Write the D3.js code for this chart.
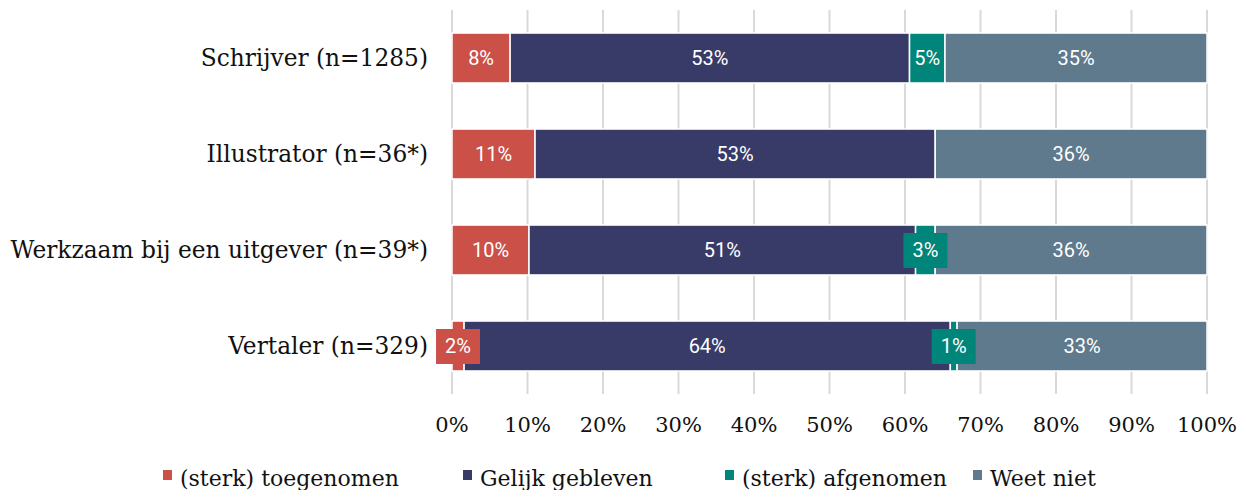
<!DOCTYPE html>
<html>
<head>
<meta charset="utf-8">
<script src="https://cdn.jsdelivr.net/npm/d3@7"></script>
<style>
  body { margin: 0; background: #fff; }
  svg { display: block; }
  .cat, .tick-label, .legend text { font-family: "DejaVu Serif", serif; fill: #111; }
  .val { font-family: Roboto, sans-serif; fill: #fff; font-size: 20px; }
</style>
</head>
<body>
<div id="chart"></div>
<script>
// categories and series (percentages)
const categories = ['Schrijver (n=1285)', 'Illustrator (n=36*)', 'Werkzaam bij een uitgever (n=39*)', 'Vertaler (n=329)'];
const seriesNames = ['(sterk) toegenomen', 'Gelijk gebleven', '(sterk) afgenomen', 'Weet niet'];
const toegenomen = [7.7, 11.0, 10.2, 1.6];
const gelijk = [52.9, 53.0, 51.2, 64.4];
const afgenomen = [4.7, 0, 2.6, 0.9];
const weetNiet = [34.7, 36.0, 36.0, 33.1];
const colors = ['#cb5047', '#383b68', '#00857a', '#5f7a8d'];
const tickValues = [0, 10, 20, 30, 40, 50, 60, 70, 80, 90, 100];

const width = 1243, height = 490;
const svg = d3.select('#chart').append('svg')
  .attr('width', width).attr('height', height);

const x = d3.scaleLinear().domain([0, 100]).range([452, 1207]);
const y = d3.scaleBand().domain(categories).range([10, 394])
  .paddingInner(0.48).paddingOuter(0.24);

// gridlines
svg.append('g').selectAll('line')
  .data(tickValues).enter().append('line')
  .attr('x1', d => x(d)).attr('x2', d => x(d))
  .attr('y1', 10).attr('y2', 394)
  .attr('stroke', '#d9d9d9').attr('stroke-width', 2);

// tick labels
svg.append('g').selectAll('text')
  .data(tickValues).enter().append('text')
  .attr('class', 'tick-label')
  .attr('x', d => x(d)).attr('y', 432)
  .attr('text-anchor', 'middle')
  .style('font-size', '21px')
  .text(d => d + '%');

// category labels
svg.append('g').selectAll('text')
  .data(categories).enter().append('text')
  .attr('class', 'cat')
  .attr('x', 428).attr('y', d => y(d) + y.bandwidth() / 2 + 8)
  .attr('text-anchor', 'end')
  .style('font-size', '23.3px')
  .text(d => d);

const rows = categories.map((c, i) => {
  const vals = [toegenomen[i], gelijk[i], afgenomen[i], weetNiet[i]];
  let acc = 0;
  return vals.map((v, k) => {
    const seg = { cat: c, k, v, x0: acc, x1: acc + v };
    acc += v;
    return seg;
  }).filter(s => s.v > 0);
});
const segs = rows.flat();

// bars
svg.append('g').selectAll('rect')
  .data(segs).enter().append('rect')
  .attr('x', d => x(d.x0)).attr('y', d => y(d.cat))
  .attr('width', d => x(d.x1) - x(d.x0))
  .attr('height', y.bandwidth())
  .attr('fill', d => colors[d.k])
  .attr('stroke', '#fff').attr('stroke-width', 1.5);

// value labels
const lab = svg.append('g').selectAll('g')
  .data(segs).enter().append('g')
  .attr('transform', d => `translate(${(x(d.x0) + x(d.x1)) / 2},${y(d.cat) + y.bandwidth() / 2})`);

lab.each(function (d) {
  const g = d3.select(this);
  const w = x(d.x1) - x(d.x0);
  const txt = Math.round(d.v) + '%';
  if (w < 28) {
    g.append('rect')
      .attr('x', -22).attr('y', -17).attr('width', 44).attr('height', 35)
      .attr('fill', colors[d.k]);
  }
  g.append('text').attr('class', 'val')
    .attr('text-anchor', 'middle').attr('dy', 7)
    .text(txt);
});

// legend
const legendX = [163, 463, 725, 973];
const legend = svg.append('g').attr('class', 'legend').selectAll('g')
  .data(seriesNames).enter().append('g')
  .attr('transform', (d, i) => `translate(${legendX[i]},470)`);
legend.append('rect').attr('width', 9).attr('height', 10)
  .attr('fill', (d, i) => colors[i]);
legend.append('text').attr('x', 17).attr('y', 16)
  .style('font-size', '22px')
  .text(d => d);
</script>
</body>
</html>
